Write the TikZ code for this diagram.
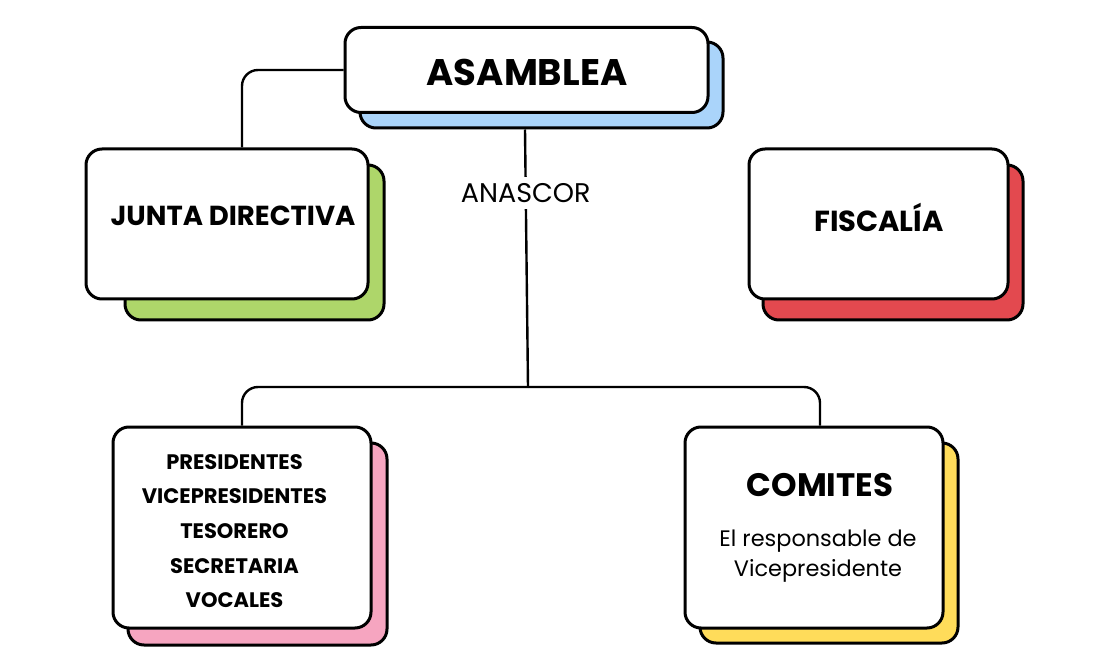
\documentclass[tikz,border=0pt]{standalone}
\usepackage{fontspec}
\setmainfont{Poppins}
\usetikzlibrary{positioning,calc}
\definecolor{cblue}{HTML}{AAD4FA}
\definecolor{cgreen}{HTML}{AED66A}
\definecolor{cred}{HTML}{E3494F}
\definecolor{cpink}{HTML}{F6A5C0}
\definecolor{cyellow}{HTML}{FFDC5A}
\tikzset{
  card/.style={draw=black, line width=3pt, rounded corners=16pt, fill=white, inner sep=0pt, align=center},
  shadowcard/.style={draw=black, line width=3pt, rounded corners=16pt, fill=#1, inner sep=0pt},
  conn/.style={draw=black, line width=2.4pt, rounded corners=16pt},
  headtxt/.style={font=\fontsize{37}{40}\selectfont\bfseries},
  midtxt/.style={font=\fontsize{27.5}{30}\selectfont\bfseries},
  smalltxt/.style={font=\fontsize{21}{34.7}\selectfont\bfseries, align=center},
}
\begin{document}
\begin{tikzpicture}[x=1pt,y=-1pt]
\useasboundingbox (0,0) rectangle (1120,671);
% shadows
\node[shadowcard=cblue, minimum width=363pt, minimum height=86pt] (asamsh) at (541.5,85) {};
\node[shadowcard=cgreen, minimum width=259pt, minimum height=155pt] (juntash) at (254.5,242.5) {};
\node[shadowcard=cred, minimum width=260pt, minimum height=155pt] (fiscsh) at (893,242.5) {};
\node[shadowcard=cpink, minimum width=259pt, minimum height=202pt] (pressh) at (257.5,544) {};
\node[shadowcard=cyellow, minimum width=258pt, minimum height=200pt] (comsh) at (829,543) {};
% front cards
\node[card, minimum width=363pt, minimum height=85pt] (asam) at (526.5,70) {};
\node[headtxt] (asamt) at (527,72) {ASAMBLEA};
\node[card, minimum width=282pt, minimum height=150pt] (junta) at (227,224) {};
\node[midtxt] (juntat) at (233,216) {JUNTA DIRECTIVA};
\node[card, minimum width=259pt, minimum height=150pt] (fisc) at (878.5,224) {};
\node[font=\fontsize{29}{32}\selectfont\bfseries] (fisct) at (879,217) {FISCALÍA};
\node[card, minimum width=258pt, minimum height=201pt] (pres) at (242,527.5) {};
\node[smalltxt] (prest) at (234.5,531) {PRESIDENTES\\VICEPRESIDENTES\\TESORERO\\SECRETARIA\\VOCALES};
\node[card, minimum width=258pt, minimum height=201pt] (com) at (814,527.5) {};
\node[font=\fontsize{32.5}{36}\selectfont\bfseries] (comt) at (820,485) {COMITES};
\node[font=\fontsize{22.4}{30}\selectfont, align=center] (comd) at (818,556) {El responsable de\\Vicepresidente};
% connectors
\coordinate (hub) at (528,387);
\coordinate (top) at ([xshift=-1.5pt]asam.south |- asamsh.south);
\draw[conn] (asam.west) -| ([xshift=15pt]junta.north);
\draw[line width=2.4pt] (top) -- (hub)
  node[pos=0.247, fill=white, inner sep=6pt, font=\fontsize{27}{30}\selectfont] (anas) {ANASCOR};
\draw[conn] (hub) -| (pres.north);
\draw[conn] (hub) -| ([xshift=6pt]com.north);
\end{tikzpicture}
\end{document}
